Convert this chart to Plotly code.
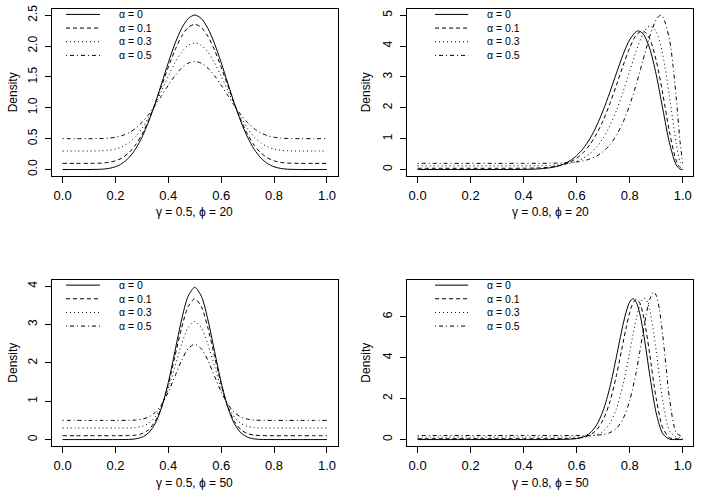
import plotly.graph_objects as go

FONT = "Liberation Sans, Arial, Helvetica, sans-serif"

# ---------------- data ----------------
alpha_labels = ["α = 0", "α = 0.1", "α = 0.3", "α = 0.5"]
panel_titles = ["γ = 0.5, ϕ = 20", "γ = 0.8, ϕ = 20", "γ = 0.5, ϕ = 50", "γ = 0.8, ϕ = 50"]
x_ticks = [0, 0.2, 0.4, 0.6, 0.8, 1.0]
x_tick_text = ["0.0", "0.2", "0.4", "0.6", "0.8", "1.0"]
y_ticks_p1 = [0, 0.5, 1.0, 1.5, 2.0, 2.5]
y_tick_text_p1 = ["0.0", "0.5", "1.0", "1.5", "2.0", "2.5"]
y_ticks_p2 = [0, 1, 2, 3, 4, 5]
y_ticks_p3 = [0, 1, 2, 3, 4]
y_ticks_p4 = [0, 2, 4, 6]

# panel 1: gamma = 0.5, phi = 20
x_p1 = [0, 0.05, 0.1, 0.15, 0.175, 0.2, 0.225, 0.25, 0.275, 0.3, 0.325, 0.35, 0.375, 0.4, 0.425,
        0.45, 0.475, 0.5, 0.525, 0.55, 0.575, 0.6, 0.625, 0.65, 0.675, 0.7, 0.725, 0.75, 0.775,
        0.8, 0.825, 0.85, 0.9, 0.95, 1.0]
p1_a0 = [0, 0, 0, 0.006, 0.018, 0.045, 0.098, 0.188, 0.326, 0.521, 0.771, 1.070, 1.399, 1.731, 2.037,
         2.284, 2.444, 2.502, 2.444, 2.284, 2.037, 1.731, 1.399, 1.070, 0.771, 0.521, 0.326, 0.188,
         0.098, 0.045, 0.018, 0.006, 0, 0, 0]
p1_a1 = [0.1, 0.1, 0.1, 0.105, 0.116, 0.141, 0.188, 0.269, 0.393, 0.569, 0.794, 1.063, 1.359, 1.658,
         1.933, 2.156, 2.300, 2.352, 2.300, 2.156, 1.933, 1.658, 1.359, 1.063, 0.794, 0.569, 0.393,
         0.269, 0.188, 0.141, 0.116, 0.105, 0.1, 0.1, 0.1]
p1_a3 = [0.3, 0.3, 0.3, 0.304, 0.313, 0.332, 0.369, 0.432, 0.528, 0.665, 0.840, 1.049, 1.279, 1.512,
         1.726, 1.899, 2.011, 2.051, 2.011, 1.899, 1.726, 1.512, 1.279, 1.049, 0.840, 0.665, 0.528,
         0.432, 0.369, 0.332, 0.313, 0.304, 0.3, 0.3, 0.3]
p1_a5 = [0.5, 0.5, 0.5, 0.503, 0.509, 0.523, 0.549, 0.594, 0.663, 0.761, 0.886, 1.035, 1.200, 1.366,
         1.519, 1.642, 1.722, 1.751, 1.722, 1.642, 1.519, 1.366, 1.200, 1.035, 0.886, 0.761, 0.663,
         0.594, 0.549, 0.523, 0.509, 0.503, 0.5, 0.5, 0.5]

# panel 2: gamma = 0.8, phi = 20
x_p2_a0 = [0, 0.1, 0.2, 0.3, 0.4, 0.45, 0.5, 0.525, 0.55, 0.575, 0.6, 0.625, 0.65, 0.675, 0.7, 0.725,
           0.75, 0.775, 0.8, 0.825, 0.8333, 0.85, 0.875, 0.9, 0.925, 0.95, 0.975, 0.99, 1.0]
p2_a0 = [0, 0, 0, 0, 0.004, 0.016, 0.057, 0.102, 0.174, 0.285, 0.450, 0.684, 1.001, 1.412, 1.916, 2.498,
         3.121, 3.720, 4.207, 4.471, 4.491, 4.406, 3.939, 3.077, 1.958, 0.865, 0.160, 0.013, 0]
x_p2_a1 = [0, 0.1, 0.2, 0.3, 0.4, 0.45, 0.5, 0.525, 0.55, 0.575, 0.6, 0.625, 0.65, 0.675, 0.7, 0.725,
           0.75, 0.775, 0.8, 0.825, 0.85, 0.875, 0.9, 0.925, 0.95, 0.975, 0.99, 1.0]
p2_a1 = [0.04, 0.04, 0.04, 0.04, 0.042, 0.050, 0.077, 0.108, 0.160, 0.241, 0.366, 0.549, 0.806, 1.151,
         1.592, 2.127, 2.733, 3.363, 3.940, 4.360, 4.497, 4.241, 3.535, 2.446, 1.225, 0.302, 0.067, 0.04]
x_p2_a3 = [0, 0.1, 0.2, 0.3, 0.4, 0.45, 0.5, 0.525, 0.55, 0.575, 0.6, 0.625, 0.65, 0.675, 0.7, 0.725,
           0.75, 0.775, 0.8, 0.825, 0.85, 0.875, 0.9, 0.925, 0.95, 0.975, 0.99, 1.0]
p2_a3 = [0.12, 0.12, 0.12, 0.12, 0.121, 0.123, 0.133, 0.146, 0.168, 0.205, 0.267, 0.363, 0.509, 0.722,
         1.018, 1.414, 1.917, 2.518, 3.185, 3.846, 4.388, 4.655, 4.471, 3.703, 2.376, 0.870, 0.249, 0.12]
x_p2_a5 = [0, 0.1, 0.2, 0.3, 0.4, 0.45, 0.5, 0.525, 0.55, 0.575, 0.6, 0.625, 0.65, 0.675, 0.7, 0.725,
           0.75, 0.775, 0.8, 0.825, 0.85, 0.875, 0.9, 0.9167, 0.925, 0.95, 0.9625, 0.975, 0.985, 0.99, 1.0]
p2_a5 = [0.2, 0.2, 0.2, 0.2, 0.2, 0.201, 0.203, 0.207, 0.213, 0.225, 0.246, 0.282, 0.342, 0.437, 0.583,
         0.799, 1.109, 1.533, 2.087, 2.766, 3.532, 4.289, 4.858, 5.0, 4.954, 4.218, 3.438, 2.381, 1.399,
         0.910, 0.2]

# panel 3: gamma = 0.5, phi = 50
x_p3 = [0, 0.05, 0.1, 0.15, 0.2, 0.25, 0.275, 0.3, 0.325, 0.35, 0.375, 0.4, 0.425, 0.45, 0.475, 0.5,
        0.525, 0.55, 0.575, 0.6, 0.625, 0.65, 0.675, 0.7, 0.725, 0.75, 0.8, 0.85, 0.9, 0.95, 1.0]
p3_a0 = [0, 0, 0, 0, 0, 0.004, 0.017, 0.061, 0.173, 0.413, 0.844, 1.490, 2.299, 3.119, 3.739, 3.970,
         3.739, 3.119, 2.299, 1.490, 0.844, 0.413, 0.173, 0.061, 0.017, 0.004, 0, 0, 0, 0, 0]
p3_a1 = [0.1, 0.1, 0.1, 0.1, 0.1, 0.104, 0.115, 0.155, 0.256, 0.472, 0.860, 1.441, 2.169, 2.907, 3.465,
         3.673, 3.465, 2.907, 2.169, 1.441, 0.860, 0.472, 0.256, 0.155, 0.115, 0.104, 0.1, 0.1, 0.1, 0.1, 0.1]
p3_a3 = [0.3, 0.3, 0.3, 0.3, 0.3, 0.303, 0.312, 0.343, 0.421, 0.589, 0.891, 1.343, 1.909, 2.483, 2.917,
         3.079, 2.917, 2.483, 1.909, 1.343, 0.891, 0.589, 0.421, 0.343, 0.312, 0.303, 0.3, 0.3, 0.3, 0.3, 0.3]
p3_a5 = [0.5, 0.5, 0.5, 0.5, 0.5, 0.502, 0.509, 0.531, 0.587, 0.707, 0.922, 1.245, 1.650, 2.060, 2.370,
         2.485, 2.370, 2.060, 1.650, 1.245, 0.922, 0.707, 0.587, 0.531, 0.509, 0.502, 0.5, 0.5, 0.5, 0.5, 0.5]

# panel 4: gamma = 0.8, phi = 50
x_p4_a0 = [0, 0.1, 0.2, 0.3, 0.4, 0.5, 0.55, 0.6, 0.625, 0.65, 0.675, 0.7, 0.725, 0.75, 0.7625, 0.775,
           0.7875, 0.8, 0.8125, 0.825, 0.8375, 0.85, 0.8625, 0.875, 0.9, 0.925, 0.95, 0.975, 1.0]
p4_a0 = [0, 0, 0, 0, 0, 0, 0.005, 0.046, 0.127, 0.314, 0.703, 1.413, 2.537, 4.036, 4.844, 5.616,
         6.267, 6.711, 6.873, 6.700, 6.182, 5.360, 4.328, 3.217, 1.296, 0.283, 0.021, 0, 0]
x_p4_a1 = [0, 0.1, 0.2, 0.3, 0.4, 0.5, 0.55, 0.6, 0.625, 0.65, 0.675, 0.7, 0.725, 0.75, 0.775, 0.7875,
           0.8, 0.8125, 0.825, 0.8375, 0.85, 0.8625, 0.875, 0.9, 0.925, 0.95, 0.975, 1.0]
p4_a1 = [0.04, 0.04, 0.04, 0.04, 0.04, 0.04, 0.042, 0.063, 0.107, 0.218, 0.467, 0.964, 1.830, 3.128,
         4.725, 5.512, 6.188, 6.658, 6.840, 6.674, 6.143, 5.292, 4.221, 2.010, 0.564, 0.091, 0.040, 0.04]
x_p4_a3 = [0, 0.1, 0.2, 0.3, 0.4, 0.5, 0.55, 0.6, 0.625, 0.65, 0.675, 0.7, 0.725, 0.75, 0.775, 0.8,
           0.8125, 0.825, 0.8375, 0.85, 0.855, 0.8625, 0.875, 0.8875, 0.9, 0.925, 0.95, 0.975, 1.0]
p4_a3 = [0.12, 0.12, 0.12, 0.12, 0.12, 0.12, 0.12, 0.124, 0.133, 0.160, 0.234, 0.409, 0.787, 1.503,
         2.673, 4.263, 5.117, 5.908, 6.529, 6.866, 6.899, 6.826, 6.360, 5.486, 4.320, 1.869, 0.432, 0.127, 0.12]
x_p4_a5 = [0, 0.1, 0.2, 0.3, 0.4, 0.5, 0.6, 0.625, 0.65, 0.675, 0.7, 0.725, 0.75, 0.775, 0.8, 0.825,
           0.8375, 0.85, 0.8625, 0.875, 0.8906, 0.9, 0.9125, 0.925, 0.9375, 0.95, 0.975, 0.99, 1.0]
p4_a5 = [0.2, 0.2, 0.2, 0.2, 0.2, 0.2, 0.2, 0.201, 0.204, 0.215, 0.247, 0.334, 0.546, 1.009, 1.893,
         3.330, 4.234, 5.192, 6.100, 6.819, 7.197, 7.039, 6.317, 5.072, 3.520, 2.013, 0.345, 0.202, 0.2]

# ---------------- figure ----------------
dash_styles = ["solid", "4px,3px", "1px,3px", "1px,3px,4px,3px"]

panels = [
    dict(xa="x", ya="y", series=[(x_p1, p1_a0), (x_p1, p1_a1), (x_p1, p1_a3), (x_p1, p1_a5)]),
    dict(xa="x2", ya="y2", series=[(x_p2_a0, p2_a0), (x_p2_a1, p2_a1), (x_p2_a3, p2_a3), (x_p2_a5, p2_a5)]),
    dict(xa="x3", ya="y3", series=[(x_p3, p3_a0), (x_p3, p3_a1), (x_p3, p3_a3), (x_p3, p3_a5)]),
    dict(xa="x4", ya="y4", series=[(x_p4_a0, p4_a0), (x_p4_a1, p4_a1), (x_p4_a3, p4_a3), (x_p4_a5, p4_a5)]),
]

fig = go.Figure()
for p in panels:
    for (xs, ys), dsh, lab in zip(p["series"], dash_styles, alpha_labels):
        fig.add_trace(go.Scatter(
            x=xs, y=ys, mode="lines", name=lab,
            line=dict(color="black", width=1, dash=dsh, shape="spline", smoothing=0.8),
            xaxis=p["xa"], yaxis=p["ya"], showlegend=False, hoverinfo="skip"))

W, H = 701, 498


def px_x(X):
    return X / W


def px_y(Y):
    return 1 - Y / H


col_px = [[52, 337.5], [407, 693.3]]
row_px = [[9, 175.7], [279.7, 445.7]]
col_dom = [[px_x(a), px_x(b)] for a, b in col_px]
row_dom = [[px_y(b), px_y(a)] for a, b in row_px]

tick_font = dict(family=FONT, size=13, color="black")


def xaxis_cfg(dom, anchor):
    return dict(domain=dom, anchor=anchor, range=[-0.04, 1.04], tickvals=x_ticks, ticktext=x_tick_text,
                ticks="outside", ticklen=6, tickwidth=1, tickcolor="black", showline=True,
                linecolor="black", linewidth=1, mirror=True, showgrid=False, zeroline=False,
                tickfont=tick_font, ticklabelstandoff=2, ticklabeloverflow="allow")


def yaxis_cfg(dom, anchor, rng, tv, tt):
    return dict(domain=dom, anchor=anchor, range=rng, tickvals=tv, ticktext=tt, tickangle=-90,
                ticks="outside", ticklen=6, tickwidth=1, tickcolor="black", showline=True,
                linecolor="black", linewidth=1, mirror=True, showgrid=False, zeroline=False,
                tickfont=dict(family=FONT, size=12, color="black"), ticklabelstandoff=3,
                ticklabeloverflow="allow")


fig.update_layout(
    width=W, height=H, margin=dict(l=0, r=0, t=0, b=0, autoexpand=False),
    paper_bgcolor="white", plot_bgcolor="white", showlegend=False,
    xaxis=xaxis_cfg(col_dom[0], "y"),
    xaxis2=xaxis_cfg(col_dom[1], "y2"),
    xaxis3=xaxis_cfg(col_dom[0], "y3"),
    xaxis4=xaxis_cfg(col_dom[1], "y4"),
    yaxis=yaxis_cfg(row_dom[0], "x", [-0.1, 2.6], y_ticks_p1, y_tick_text_p1),
    yaxis2=yaxis_cfg(row_dom[0], "x2", [-0.2, 5.2], y_ticks_p2, [str(v) for v in y_ticks_p2]),
    yaxis3=yaxis_cfg(row_dom[1], "x3", [-0.16, 4.17], y_ticks_p3, [str(v) for v in y_ticks_p3]),
    yaxis4=yaxis_cfg(row_dom[1], "x4", [-0.3, 7.8], y_ticks_p4, [str(v) for v in y_ticks_p4]),
)

# axis titles
label_font = dict(family=FONT, size=12, color="black")
ann = []
ylab_x = [13, 366]
xlab_y = [212, 483]
for r in range(2):
    for c in range(2):
        cx = (col_px[c][0] + col_px[c][1]) / 2
        cy = (row_px[r][0] + row_px[r][1]) / 2
        ann.append(dict(x=px_x(cx), y=px_y(xlab_y[r]), xref="paper", yref="paper",
                        text=panel_titles[2 * r + c], showarrow=False, font=label_font,
                        xanchor="center", yanchor="middle"))
        ann.append(dict(x=px_x(ylab_x[c]), y=px_y(cy), xref="paper", yref="paper",
                        text="Density", textangle=-90, showarrow=False, font=label_font,
                        xanchor="center", yanchor="middle"))

# legends (inside each panel, no box): one text block + line samples
LEG_FS = 10.5
row_gap = 1.3 * LEG_FS          # line spacing of a multi-line annotation
leg_center_off = 25.9           # px below the box top
legend_line_x = [[0.049, 0.168], [0.098, 0.214]]
legend_text_x = [0.2275, 0.273]
shapes = []
for i, p in enumerate(panels):
    c, r = i % 2, i // 2
    box_h = row_px[r][1] - row_px[r][0]
    xd = p["xa"] + " domain"
    yd = p["ya"] + " domain"
    yc = 1 - leg_center_off / box_h
    for k, dsh in enumerate(dash_styles):
        yy = yc + (1.5 - k) * row_gap / box_h
        shapes.append(dict(type="line", xref=xd, yref=yd, x0=legend_line_x[c][0], x1=legend_line_x[c][1],
                           y0=yy, y1=yy, line=dict(color="black", width=1, dash=dsh)))
    ann.append(dict(x=legend_text_x[c], y=yc, xref=xd, yref=yd, text="<br>".join(alpha_labels),
                    showarrow=False, align="left", font=dict(family=FONT, size=LEG_FS, color="black"),
                    xanchor="left", yanchor="middle"))

fig.update_layout(annotations=ann, shapes=shapes)
# remove the page's default 8px body margin so the figure fills the window exactly
fig.write_html("out.html", config={"displayModeBar": False},
               post_script="document.body.style.margin='0';")
